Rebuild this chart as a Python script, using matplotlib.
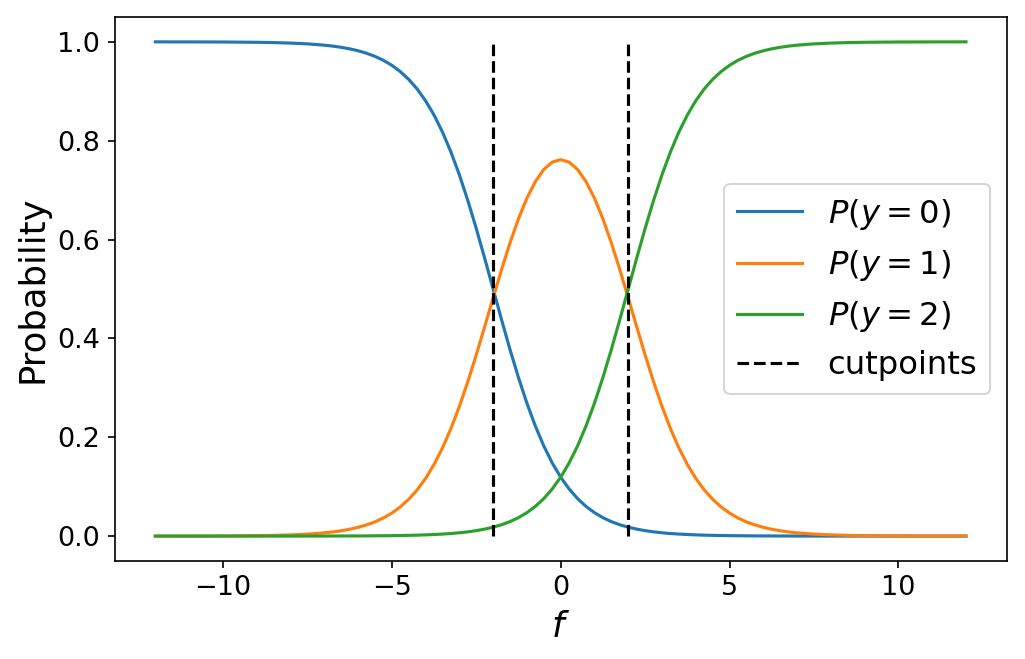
import matplotlib
matplotlib.use("Agg")
import matplotlib.pyplot as plt

# latent value f (coarse in the tails, every 0.25 between -7 and 7)
f_values = [-12.0, -11.5, -11.0, -10.5, -10.0, -9.5, -9.0, -8.5, -8.0, -7.5,
            -7.0, -6.75, -6.5, -6.25, -6.0, -5.75, -5.5, -5.25, -5.0, -4.75,
            -4.5, -4.25, -4.0, -3.75, -3.5, -3.25, -3.0, -2.75, -2.5, -2.25,
            -2.0, -1.75, -1.5, -1.25, -1.0, -0.75, -0.5, -0.25, 0.0, 0.25,
            0.5, 0.75, 1.0, 1.25, 1.5, 1.75, 2.0, 2.25, 2.5, 2.75,
            3.0, 3.25, 3.5, 3.75, 4.0, 4.25, 4.5, 4.75, 5.0, 5.25,
            5.5, 5.75, 6.0, 6.25, 6.5, 6.75, 7.0,
            7.5, 8.0, 8.5, 9.0, 9.5, 10.0, 10.5, 11.0, 11.5, 12.0]

# estimated probabilities
p_y0 = [1.0000, 0.9999, 0.9999, 0.9998, 0.9997, 0.9994, 0.9991, 0.9985, 0.9975, 0.9959,
        0.9933, 0.9914, 0.9890, 0.9859, 0.9820, 0.9770, 0.9707, 0.9627, 0.9526, 0.9399,
        0.9241, 0.9047, 0.8808, 0.8520, 0.8176, 0.7773, 0.7311, 0.6792, 0.6225, 0.5622,
        0.5000, 0.4378, 0.3775, 0.3208, 0.2689, 0.2227, 0.1824, 0.1480, 0.1192, 0.0953,
        0.0759, 0.0601, 0.0474, 0.0373, 0.0293, 0.0230, 0.0180, 0.0141, 0.0110, 0.0086,
        0.0067, 0.0052, 0.0041, 0.0032, 0.0025, 0.0019, 0.0015, 0.0012, 0.0009, 0.0007,
        0.0006, 0.0004, 0.0003, 0.0003, 0.0002, 0.0002, 0.0001,
        0.0001, 0.0000, 0.0000, 0.0000, 0.0000, 0.0000, 0.0000, 0.0000, 0.0000, 0.0000]

p_y1 = [0.0000, 0.0001, 0.0001, 0.0002, 0.0003, 0.0006, 0.0009, 0.0015, 0.0025, 0.0040,
        0.0066, 0.0084, 0.0108, 0.0138, 0.0177, 0.0226, 0.0287, 0.0366, 0.0465, 0.0589,
        0.0744, 0.0934, 0.1167, 0.1448, 0.1783, 0.2175, 0.2622, 0.3122, 0.3665, 0.4237,
        0.4820, 0.5392, 0.5932, 0.6419, 0.6837, 0.7172, 0.7417, 0.7567, 0.7616, 0.7567,
        0.7417, 0.7172, 0.6837, 0.6419, 0.5932, 0.5392, 0.4820, 0.4237, 0.3665, 0.3122,
        0.2622, 0.2175, 0.1783, 0.1448, 0.1167, 0.0934, 0.0744, 0.0589, 0.0465, 0.0366,
        0.0287, 0.0226, 0.0177, 0.0138, 0.0108, 0.0084, 0.0066,
        0.0040, 0.0025, 0.0015, 0.0009, 0.0006, 0.0003, 0.0002, 0.0001, 0.0001, 0.0000]

p_y2 = [0.0000, 0.0000, 0.0000, 0.0000, 0.0000, 0.0000, 0.0000, 0.0000, 0.0000, 0.0001,
        0.0001, 0.0002, 0.0002, 0.0003, 0.0003, 0.0004, 0.0006, 0.0007, 0.0009, 0.0012,
        0.0015, 0.0019, 0.0025, 0.0032, 0.0041, 0.0052, 0.0067, 0.0086, 0.0110, 0.0141,
        0.0180, 0.0230, 0.0293, 0.0373, 0.0474, 0.0601, 0.0759, 0.0953, 0.1192, 0.1480,
        0.1824, 0.2227, 0.2689, 0.3208, 0.3775, 0.4378, 0.5000, 0.5622, 0.6225, 0.6792,
        0.7311, 0.7773, 0.8176, 0.8520, 0.8808, 0.9047, 0.9241, 0.9399, 0.9526, 0.9627,
        0.9707, 0.9770, 0.9820, 0.9859, 0.9890, 0.9914, 0.9933,
        0.9959, 0.9975, 0.9985, 0.9991, 0.9994, 0.9997, 0.9998, 0.9999, 0.9999, 1.0000]

cutpoints = [-2.0, 2.0]

fig = plt.figure(figsize=(1025 / 150, 659 / 150), dpi=150)
ax = fig.add_axes([0.112, 0.149, 0.870, 0.825])

ax.plot(f_values, p_y0, color="tab:blue", lw=1.5, label=r"$P(y=0)$")
ax.plot(f_values, p_y1, color="tab:orange", lw=1.5, label=r"$P(y=1)$")
ax.plot(f_values, p_y2, color="tab:green", lw=1.5, label=r"$P(y=2)$")
ax.vlines(cutpoints, 0, 1, colors="black", linestyles="--", lw=1.5, label="cutpoints")

ax.set_xlabel(r"$f$", fontsize=17)
ax.set_ylabel("Probability", fontsize=17)
ax.tick_params(labelsize=13)
ax.legend(loc="center right", fontsize=15.5)

fig.savefig("out.png", dpi=150)
